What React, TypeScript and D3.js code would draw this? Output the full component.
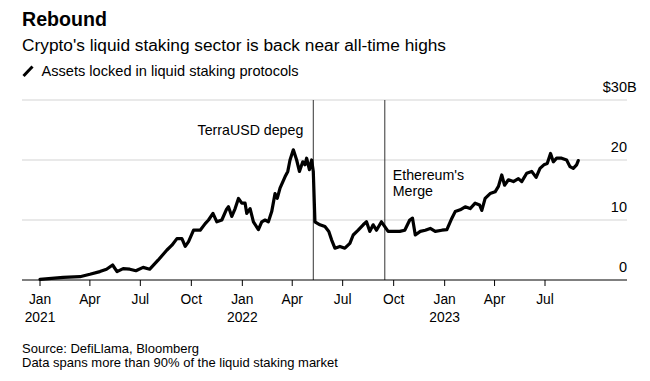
import React from "react";
import * as d3 from "d3";

const dates: string[] = [
  "2021-01-01","2021-02-12","2021-03-14","2021-04-01","2021-04-19","2021-05-01","2021-05-12","2021-05-20","2021-05-31","2021-06-12",
  "2021-06-23","2021-07-06","2021-07-18","2021-08-02","2021-08-18","2021-08-27","2021-09-05","2021-09-14","2021-09-20","2021-09-26",
  "2021-10-05","2021-10-17","2021-10-26","2021-11-01","2021-11-09","2021-11-16","2021-11-25","2021-12-03","2021-12-07","2021-12-13",
  "2021-12-19","2021-12-25","2021-12-31","2022-01-06","2022-01-09","2022-01-15","2022-01-21","2022-01-30","2022-02-05","2022-02-11",
  "2022-02-17","2022-02-23","2022-03-01","2022-03-05","2022-03-10","2022-03-19","2022-03-24","2022-03-28","2022-04-03","2022-04-09",
  "2022-04-14","2022-04-20","2022-04-24","2022-04-27","2022-05-02","2022-05-06","2022-05-09","2022-05-12","2022-05-21","2022-05-30",
  "2022-06-06","2022-06-11","2022-06-17","2022-06-26","2022-07-05","2022-07-14","2022-07-20","2022-07-29","2022-08-07","2022-08-13",
  "2022-08-19","2022-08-25","2022-08-31","2022-09-09","2022-09-15","2022-09-21","2022-09-30","2022-10-12","2022-10-21","2022-10-30",
  "2022-11-04","2022-11-09","2022-11-18","2022-11-27","2022-12-06","2022-12-15","2022-12-27","2023-01-05","2023-01-14","2023-01-20",
  "2023-01-29","2023-02-07","2023-02-16","2023-02-25","2023-03-05","2023-03-09","2023-03-15","2023-03-24","2023-04-02","2023-04-08",
  "2023-04-14","2023-04-19","2023-04-26","2023-05-05","2023-05-14","2023-05-20","2023-05-29","2023-06-07","2023-06-15","2023-06-22",
  "2023-06-29","2023-07-05","2023-07-11","2023-07-16","2023-07-22","2023-07-31","2023-08-09","2023-08-15","2023-08-21","2023-08-27",
  "2023-08-30",
];
const values: number[] = [
  0.1,0.45,0.55,0.95,1.4,1.8,2.5,1.4,1.9,1.8,
  1.55,2.1,1.8,3.3,5.0,5.8,6.9,6.9,5.6,6.4,
  8.3,8.3,9.4,10.0,11.1,9.7,10.0,11.7,12.2,10.6,
  11.9,13.6,12.8,12.8,11.1,11.9,9.7,8.4,9.7,10.0,
  9.7,11.4,14.4,13.6,15.3,17.2,18.1,20.0,21.7,20.0,
  18.1,19.7,19.2,20.3,18.4,20.0,18.1,9.7,9.2,8.9,
  8.1,6.7,5.3,5.6,5.3,6.1,7.5,8.3,9.2,9.7,
  8.1,9.2,8.3,9.7,8.9,8.1,8.1,8.1,8.3,10.0,
  10.3,7.5,8.1,8.3,8.6,8.1,8.3,8.4,10.3,11.4,
  11.7,12.2,11.9,12.8,12.5,11.6,13.6,14.4,14.7,15.6,
  17.5,15.8,16.7,16.4,16.9,16.4,17.8,18.1,17.1,18.6,
  19.2,19.4,21.1,19.7,20.3,20.3,20.0,18.9,18.6,19.2,
  19.9,
];
const yTicks: number[] = [0, 10, 20, 30];
const xTickDates: string[] = [
  "2021-01-01","2021-04-01","2021-07-01","2021-10-01","2022-01-01","2022-04-01",
  "2022-07-01","2022-10-01","2023-01-01","2023-04-01","2023-07-01",
];
const eventDates: string[] = ["2022-05-09", "2022-09-15"];
const eventLabels: string[][] = [["TerraUSD depeg"], ["Ethereum's", "Merge"]];

const W = 650;
const H = 381;
const FONT = "'Liberation Sans', Arial, Helvetica, sans-serif";
const parse = d3.utcParse("%Y-%m-%d");

export default function App() {
  const x = d3
    .scaleUtc()
    .domain([parse("2021-01-01")!, parse("2023-07-01")!])
    .range([40, 545]);
  const y = d3.scaleLinear().domain([0, 30]).range([280, 100]);
  const gridX0 = 22;
  const gridX1 = 627;

  const pts = dates.map((d, i) => ({ d: parse(d)!, v: values[i] }));
  const line = d3
    .line<{ d: Date; v: number }>()
    .x((p) => x(p.d))
    .y((p) => y(p.v));

  const monthFmt = d3.utcFormat("%b");
  const e0 = x(parse(eventDates[0])!);
  const e1 = x(parse(eventDates[1])!);

  return (
    <svg width={W} height={H} style={{ position: "absolute", left: 0, top: 0, background: "#fff" }} fontFamily={FONT}>
      <rect width={W} height={H} fill="#fff" />
      <text x={22} y={26} fontSize={19.6} fontWeight="bold" fill="#000">Rebound</text>
      <text x={22} y={51} fontSize={17.3} fill="#000">Crypto's liquid staking sector is back near all-time highs</text>
      <line x1={23.5} y1={76} x2={32.5} y2={66.5} stroke="#000" strokeWidth={3} />
      <text x={41.5} y={75.5} fontSize={14.6} fill="#000">Assets locked in liquid staking protocols</text>

      {yTicks.map((t) => (
        <g key={t}>
          {t > 0 && (
            <line x1={gridX0} x2={gridX1} y1={y(t)} y2={y(t)} stroke="#e2e2e2" strokeWidth={1.5} />
          )}
          <text x={gridX1} y={y(t) - 8} fontSize={14.5} fill="#000" textAnchor="end">
            {t === 30 ? "$30" : String(t)}
          </text>
          {t === 30 && (
            <text x={gridX1} y={y(t) - 8} fontSize={14.5} fill="#000">B</text>
          )}
        </g>
      ))}

      {eventDates.map((ds) => {
        const ex = x(parse(ds)!);
        return <line key={ds} x1={ex} x2={ex} y1={100} y2={280} stroke="#333" strokeWidth={1} />;
      })}

      <path d={line(pts) || ""} fill="none" stroke="#000" strokeWidth={3.2} strokeLinejoin="round" strokeLinecap="round" />

      <line x1={gridX0} x2={gridX1} y1={280} y2={280} stroke="#000" strokeWidth={1} />
      {xTickDates.map((ds) => {
        const d = parse(ds)!;
        const tx = x(d);
        const isJan = d.getUTCMonth() === 0;
        return (
          <g key={ds}>
            <line x1={tx} x2={tx} y1={280} y2={286} stroke="#000" strokeWidth={1} />
            <text x={tx} y={304} fontSize={13.8} textAnchor="middle" fill="#000">{monthFmt(d)}</text>
            {isJan && (
              <text x={tx} y={322} fontSize={13.8} textAnchor="middle" fill="#000">{d.getUTCFullYear()}</text>
            )}
          </g>
        );
      })}

      <text x={e0 - 10} y={135} fontSize={14.2} textAnchor="end" fill="#000">{eventLabels[0][0]}</text>
      <text fontSize={14.2} fill="#000">
        <tspan x={e1 + 8} y={180}>{eventLabels[1][0]}</tspan>
        <tspan x={e1 + 8} y={196}>{eventLabels[1][1]}</tspan>
      </text>

      <text x={22} y={353} fontSize={13} fill="#000">Source: DefiLlama, Bloomberg</text>
      <text x={22} y={367} fontSize={13} fill="#000">Data spans more than 90% of the liquid staking market</text>
    </svg>
  );
}
